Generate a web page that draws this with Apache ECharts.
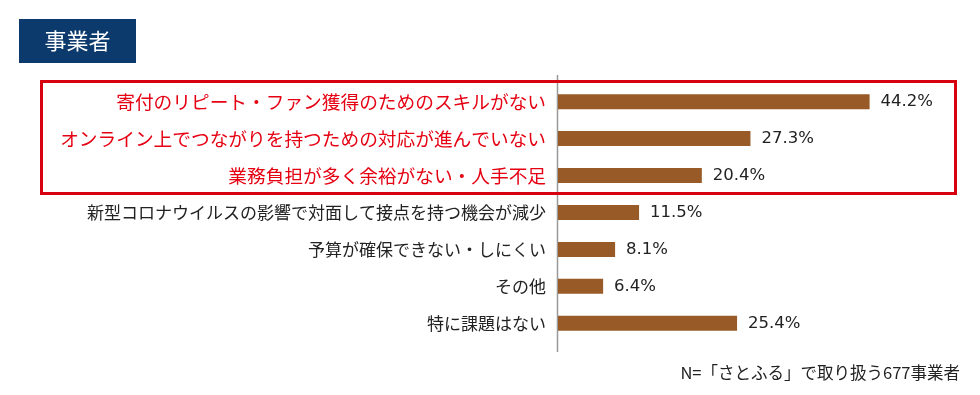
<!DOCTYPE html>
<html>
<head>
<meta charset="utf-8">
<script src="https://cdn.jsdelivr.net/npm/echarts@6/dist/echarts.min.js"></script>
<style>
html,body{margin:0;padding:0;background:#fff;}
#chart{width:980px;height:395px;}
</style>
</head>
<body>
<div id="chart"></div>
<script>
var categories = [
  '寄付のリピート・ファン獲得のためのスキルがない',
  'オンライン上でつながりを持つための対応が進んでいない',
  '業務負担が多く余裕がない・人手不足',
  '新型コロナウイルスの影響で対面して接点を持つ機会が減少',
  '予算が確保できない・しにくい',
  'その他',
  '特に課題はない'
];
var values = [44.2, 27.3, 20.4, 11.5, 8.1, 6.4, 25.4];
var highlightCount = 3;
var titleText = '事業者';
var noteText = 'N=「さとふる」で取り扱う677事業者';

var chart = echarts.init(document.getElementById('chart'));
chart.setOption({
  animation: false,
  backgroundColor: '#ffffff',
  grid: { left: 558, top: 83.2, height: 258.5, width: 387.75 },
  xAxis: {
    type: 'value', min: 0, max: 55,
    show: false
  },
  yAxis: {
    type: 'category',
    data: categories,
    inverse: true,
    axisLine: { show: false },
    axisTick: { show: false },
    axisLabel: {
      margin: 12,
      formatter: function (v, i) {
        return (i < highlightCount ? '{r|' : '{b|') + v + '}';
      },
      rich: {
        r: { fontFamily: 'Noto Sans CJK JP', fontSize: 18.7, color: '#e50012' },
        b: { fontFamily: 'Noto Sans CJK JP', fontSize: 17, color: '#222222' }
      }
    }
  },
  series: [{
    type: 'bar',
    data: values,
    barWidth: 15,
    itemStyle: { color: '#985a27' },
    label: {
      show: true,
      position: 'right',
      distance: 11,
      formatter: function (p) { return p.value.toFixed(1) + '%'; },
      fontFamily: 'DejaVu Sans',
      fontSize: 16.5,
      color: '#222222'
    }
  }],
  title: {
    text: noteText,
    right: 15,
    top: 359,
    textStyle: { fontFamily: 'Noto Sans CJK JP', fontSize: 16.5, fontWeight: 'normal', color: '#222222' }
  },
  graphic: [
    { type: 'rect', shape: { x: 19, y: 19, width: 117, height: 44 }, style: { fill: '#0d3a6c' } },
    { type: 'text', x: 77.5, y: 41, style: { text: titleText, fill: '#ffffff', font: '22px "Noto Sans CJK JP"', textAlign: 'center', textVerticalAlign: 'middle' } },
    { type: 'line', shape: { x1: 557.5, y1: 75, x2: 557.5, y2: 352 }, style: { stroke: '#999999', lineWidth: 1.5 } },
    { type: 'rect', shape: { x: 41.5, y: 81.5, width: 914, height: 112 }, style: { fill: null, stroke: '#d7000f', lineWidth: 3 } }
  ]
});
</script>
</body>
</html>
